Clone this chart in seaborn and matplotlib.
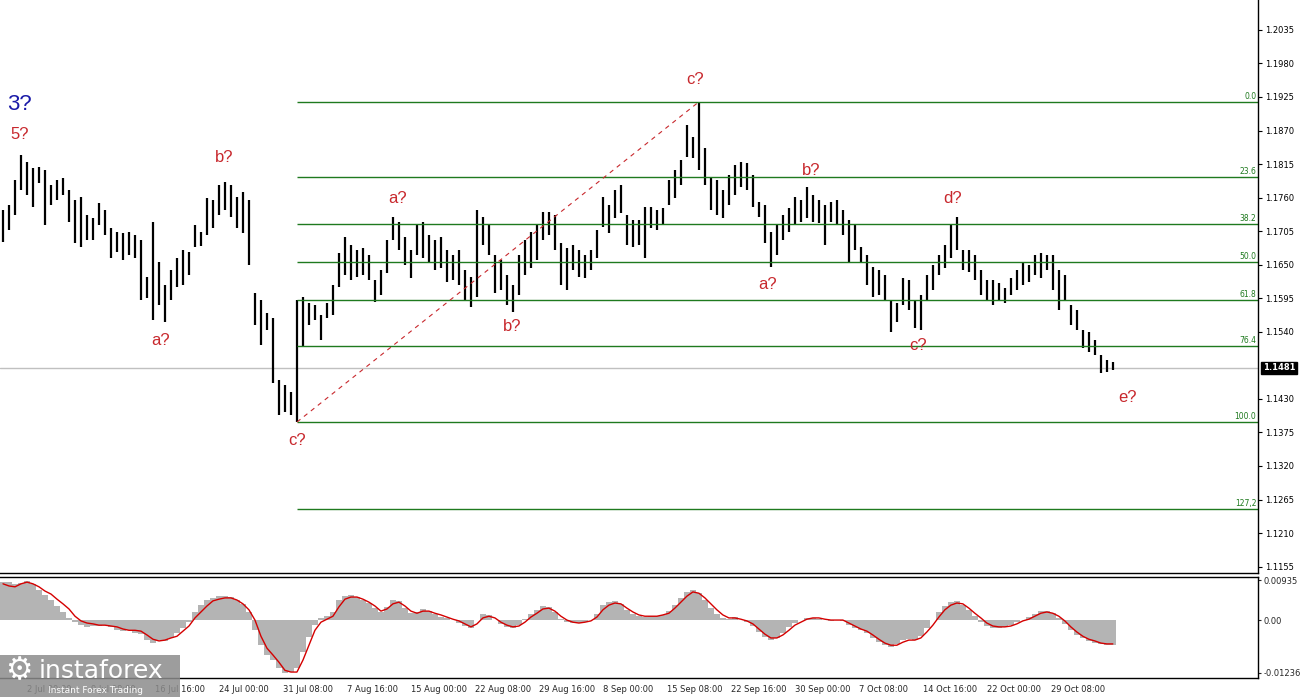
import numpy as np
import seaborn as sns
import matplotlib.pyplot as plt
import matplotlib.transforms as mtransforms
from matplotlib.patches import Rectangle

# EUR/USD H4, one entry per 12 hours (high / low)
highs = [1.1740, 1.1748, 1.1789, 1.1830, 1.1818, 1.1808, 1.1810, 1.1805, 1.1781, 1.1789,
         1.1792, 1.1772, 1.1756, 1.1761, 1.1731, 1.1726, 1.1751, 1.1740, 1.1710, 1.1703,
         1.1702, 1.1703, 1.1699, 1.1690, 1.1630, 1.1720, 1.1654, 1.1617, 1.1641, 1.1661,
         1.1674, 1.1671, 1.1715, 1.1703, 1.1759, 1.1756, 1.1781, 1.1786, 1.1781, 1.1761,
         1.1769, 1.1756, 1.1604, 1.1592, 1.1571, 1.1563, 1.1461, 1.1453, 1.1441, 1.1592,
         1.1597, 1.1587, 1.1584, 1.1567, 1.1587, 1.1617, 1.1669, 1.1695, 1.1682, 1.1674,
         1.1677, 1.1666, 1.1625, 1.1641, 1.1690, 1.1728, 1.1720, 1.1695, 1.1674, 1.1715,
         1.1720, 1.1699, 1.1690, 1.1695, 1.1674, 1.1666, 1.1674, 1.1641, 1.1630, 1.1740,
         1.1728, 1.1715, 1.1666, 1.1658, 1.1633, 1.1617, 1.1666, 1.1690, 1.1703, 1.1715,
         1.1736, 1.1736, 1.1731, 1.1686, 1.1677, 1.1682, 1.1674, 1.1666, 1.1674, 1.1707,
         1.1761, 1.1748, 1.1772, 1.1781, 1.1731, 1.1723, 1.1723, 1.1745, 1.1745, 1.1740,
         1.1743, 1.1789, 1.1805, 1.1822, 1.1879, 1.1859, 1.1917, 1.1841, 1.1794, 1.1789,
         1.1772, 1.1797, 1.1813, 1.1818, 1.1817, 1.1797, 1.1753, 1.1748, 1.1703, 1.1715,
         1.1731, 1.1743, 1.1761, 1.1756, 1.1777, 1.1764, 1.1756, 1.1748, 1.1753, 1.1756,
         1.1740, 1.1723, 1.1715, 1.1679, 1.1666, 1.1646, 1.1641, 1.1633, 1.1592, 1.1587,
         1.1628, 1.1625, 1.1592, 1.1600, 1.1633, 1.1649, 1.1666, 1.1682, 1.1715, 1.1728,
         1.1674, 1.1674, 1.1666, 1.1641, 1.1625, 1.1625, 1.1620, 1.1612, 1.1628, 1.1641,
         1.1654, 1.1649, 1.1666, 1.1669, 1.1666, 1.1666, 1.1641, 1.1633, 1.1584, 1.1576,
         1.1543, 1.1540, 1.1526, 1.1502, 1.1494, 1.1490]
lows = [1.1687, 1.1707, 1.1731, 1.1772, 1.1764, 1.1745, 1.1784, 1.1715, 1.1748, 1.1756,
        1.1764, 1.1720, 1.1686, 1.1679, 1.1690, 1.1690, 1.1715, 1.1699, 1.1661, 1.1671,
        1.1658, 1.1666, 1.1661, 1.1592, 1.1595, 1.1559, 1.1584, 1.1556, 1.1592, 1.1613,
        1.1617, 1.1633, 1.1679, 1.1681, 1.1699, 1.1710, 1.1731, 1.1740, 1.1728, 1.1710,
        1.1702, 1.1649, 1.1551, 1.1518, 1.1543, 1.1456, 1.1403, 1.1408, 1.1403, 1.1392,
        1.1515, 1.1551, 1.1559, 1.1526, 1.1563, 1.1567, 1.1613, 1.1633, 1.1625, 1.1630,
        1.1633, 1.1625, 1.1589, 1.1600, 1.1636, 1.1690, 1.1674, 1.1649, 1.1628, 1.1666,
        1.1661, 1.1654, 1.1641, 1.1645, 1.1622, 1.1625, 1.1617, 1.1592, 1.1581, 1.1597,
        1.1682, 1.1666, 1.1604, 1.1608, 1.1584, 1.1572, 1.1600, 1.1633, 1.1645, 1.1658,
        1.1690, 1.1699, 1.1674, 1.1617, 1.1608, 1.1641, 1.1630, 1.1628, 1.1641, 1.1661,
        1.1712, 1.1702, 1.1726, 1.1735, 1.1682, 1.1679, 1.1682, 1.1661, 1.1710, 1.1707,
        1.1715, 1.1748, 1.1759, 1.1781, 1.1827, 1.1825, 1.1805, 1.1781, 1.1740, 1.1731,
        1.1726, 1.1748, 1.1764, 1.1777, 1.1772, 1.1745, 1.1728, 1.1686, 1.1646, 1.1666,
        1.1690, 1.1703, 1.1715, 1.1720, 1.1726, 1.1720, 1.1718, 1.1682, 1.1720, 1.1715,
        1.1699, 1.1653, 1.1674, 1.1653, 1.1617, 1.1597, 1.1600, 1.1592, 1.1540, 1.1556,
        1.1584, 1.1576, 1.1546, 1.1543, 1.1592, 1.1608, 1.1633, 1.1645, 1.1661, 1.1674,
        1.1641, 1.1638, 1.1625, 1.1600, 1.1592, 1.1584, 1.1592, 1.1587, 1.1600, 1.1608,
        1.1617, 1.1622, 1.1633, 1.1628, 1.1641, 1.1608, 1.1576, 1.1592, 1.1551, 1.1543,
        1.1513, 1.1507, 1.1502, 1.1472, 1.1474, 1.1477]
last_price = 1.1481

# MACD histogram and signal line
macd_hist = [0.0089, 0.0089, 0.0085, 0.0087, 0.0092, 0.0085, 0.0071, 0.0059, 0.0047, 0.0033,
             0.0019, 0.0005, -0.0005, -0.0012, -0.0016, -0.0014, -0.0014, -0.0012, -0.0016, -0.0024,
             -0.0026, -0.0024, -0.0031, -0.0033, -0.0047, -0.0054, -0.0047, -0.0049, -0.0042, -0.0031,
             -0.0019, -0.0005, 0.0019, 0.0035, 0.0047, 0.0052, 0.0056, 0.0056, 0.0054, 0.0047,
             0.0038, 0.0019, -0.0024, -0.0059, -0.0082, -0.0094, -0.0113, -0.0125, -0.0122, -0.0113,
             -0.0075, -0.0040, -0.0012, 0.0005, 0.0009, 0.0019, 0.0047, 0.0056, 0.0059, 0.0054,
             0.0047, 0.0040, 0.0028, 0.0019, 0.0031, 0.0047, 0.0045, 0.0028, 0.0016, 0.0019,
             0.0026, 0.0021, 0.0014, 0.0007, 0.0005, 0.0, -0.0007, -0.0014, -0.0019, 0.0,
             0.0014, 0.0012, 0.0, -0.0009, -0.0016, -0.0019, -0.0012, 0.0002, 0.0014, 0.0024,
             0.0033, 0.0031, 0.0019, 0.0002, -0.0005, -0.0007, -0.0007, -0.0005, 0.0, 0.0014,
             0.0035, 0.0042, 0.0045, 0.0038, 0.0024, 0.0014, 0.0009, 0.0007, 0.0009, 0.0009,
             0.0012, 0.0021, 0.0035, 0.0052, 0.0066, 0.0071, 0.0063, 0.0047, 0.0028, 0.0014,
             0.0005, 0.0002, 0.0007, 0.0, -0.0005, -0.0014, -0.0028, -0.0040, -0.0047, -0.0042,
             -0.0031, -0.0016, -0.0007, 0.0, 0.0005, 0.0005, 0.0002, 0.0, -0.0002, 0.0,
             -0.0002, -0.0012, -0.0019, -0.0024, -0.0031, -0.0042, -0.0052, -0.0059, -0.0063, -0.0056,
             -0.0047, -0.0045, -0.0047, -0.0038, -0.0019, 0.0, 0.0019, 0.0033, 0.0042, 0.0045,
             0.0035, 0.0024, 0.0009, -0.0005, -0.0014, -0.0019, -0.0019, -0.0016, -0.0012, -0.0005,
             0.0, 0.0007, 0.0014, 0.0021, 0.0021, 0.0016, 0.0005, -0.0009, -0.0024, -0.0035,
             -0.0042, -0.0049, -0.0054, -0.0056, -0.0059, -0.0059]
macd_signal = [0.0085, 0.0080, 0.0078, 0.0085, 0.0089, 0.0085, 0.0078, 0.0068, 0.0061, 0.0049,
               0.0038, 0.0026, 0.0009, -0.0002, -0.0007, -0.0009, -0.0012, -0.0012, -0.0014, -0.0016,
               -0.0021, -0.0024, -0.0024, -0.0026, -0.0035, -0.0045, -0.0049, -0.0047, -0.0042, -0.0038,
               -0.0026, -0.0014, 0.0005, 0.0019, 0.0033, 0.0045, 0.0049, 0.0052, 0.0052, 0.0047,
               0.0038, 0.0024, 0.0, -0.0038, -0.0066, -0.0082, -0.0099, -0.0118, -0.0122, -0.0122,
               -0.0094, -0.0059, -0.0024, -0.0005, 0.0002, 0.0009, 0.0031, 0.0049, 0.0054, 0.0054,
               0.0049, 0.0042, 0.0033, 0.0021, 0.0026, 0.0038, 0.0042, 0.0033, 0.0021, 0.0016,
               0.0021, 0.0021, 0.0016, 0.0012, 0.0007, 0.0002, -0.0002, -0.0009, -0.0016, -0.0009,
               0.0005, 0.0009, 0.0005, -0.0005, -0.0012, -0.0016, -0.0014, -0.0005, 0.0007, 0.0016,
               0.0026, 0.0028, 0.0021, 0.0009, 0.0, -0.0005, -0.0007, -0.0005, -0.0002, 0.0007,
               0.0024, 0.0035, 0.0040, 0.0038, 0.0028, 0.0019, 0.0012, 0.0009, 0.0009, 0.0009,
               0.0012, 0.0016, 0.0028, 0.0042, 0.0056, 0.0066, 0.0063, 0.0052, 0.0038, 0.0024,
               0.0012, 0.0005, 0.0005, 0.0002, -0.0002, -0.0009, -0.0021, -0.0033, -0.0042, -0.0042,
               -0.0035, -0.0024, -0.0012, -0.0005, 0.0002, 0.0005, 0.0005, 0.0002, 0.0, 0.0,
               0.0, -0.0007, -0.0014, -0.0021, -0.0026, -0.0035, -0.0045, -0.0054, -0.0059, -0.0059,
               -0.0052, -0.0047, -0.0047, -0.0042, -0.0028, -0.0012, 0.0007, 0.0024, 0.0035, 0.0040,
               0.0038, 0.0028, 0.0016, 0.0005, -0.0007, -0.0014, -0.0016, -0.0016, -0.0014, -0.0009,
               -0.0002, 0.0002, 0.0009, 0.0016, 0.0019, 0.0016, 0.0009, -0.0002, -0.0016, -0.0028,
               -0.0038, -0.0045, -0.0049, -0.0054, -0.0056, -0.0056]

date_labels = ['24 Jun 16:00', '2 Jul 00:00', '9 Jul 08:00', '16 Jul 16:00', '24 Jul 00:00',
               '31 Jul 08:00', '7 Aug 16:00', '15 Aug 00:00', '22 Aug 08:00', '29 Aug 16:00',
               '8 Sep 00:00', '15 Sep 08:00', '22 Sep 16:00', '30 Sep 00:00', '7 Oct 08:00',
               '14 Oct 16:00', '22 Oct 00:00', '29 Oct 08:00']
price_ticks = [1.2035, 1.1980, 1.1925, 1.1870, 1.1815, 1.1760, 1.1705, 1.1650, 1.1595,
               1.1540, 1.1430, 1.1375, 1.1320, 1.1265, 1.1210, 1.1155]
fib_levels = [0.0, 23.6, 38.2, 50.0, 61.8, 76.4, 100.0, 127.2]
fib_texts = ['0.0', '23.6', '38.2', '50.0', '61.8', '76.4', '100.0', '127,2']

# wave labels: (text, bar index, price)
wave_labels = [('5?', 2.8, 1.1863), ('b?', 36.8, 1.1825), ('a?', 26.2, 1.1525),
               ('c?', 49.0, 1.1361), ('a?', 65.7, 1.1759), ('b?', 84.8, 1.1548),
               ('c?', 115.3, 1.1953), ('a?', 127.5, 1.1617), ('b?', 134.7, 1.1805),
               ('c?', 152.5, 1.1517), ('d?', 158.3, 1.1759), ('e?', 187.5, 1.1433)]

sns.set_theme(style='white')
plt.rcParams['font.family'] = ['DejaVu Sans']

fig = plt.figure(figsize=(13, 7), dpi=100)
ax = fig.add_axes([0, 0.181, 0.9677, 0.819])
axm = fig.add_axes([0, 0.0314, 0.9677, 0.1443])

x = np.arange(len(highs))
green = '#1f7a1f'
red = '#c8282d'
x_right = 209.2

# price bars
ax.vlines(x, lows, highs, color='black', lw=1.6)

# fibonacci grid from the low to the high
i_lo, i_hi = int(np.argmin(lows)), int(np.argmax(highs))
p_lo, p_hi = lows[i_lo], highs[i_hi]
for lvl, txt in zip(fib_levels, fib_texts):
    p = p_hi - (p_hi - p_lo) * lvl / 100
    ax.hlines(p, i_lo, x_right, color=green, lw=1.0)
    ax.text(x_right - 0.3, p + 0.0002, txt, color=green, fontsize=5.5, ha='right', va='bottom')
ax.plot([i_lo, i_hi], [p_lo, p_hi], color=red, lw=0.8, ls=(0, (4, 4)))

# current price line and marker
ax.axhline(last_price, color='#c0c0c0', lw=1.0, zorder=0)
trans = mtransforms.blended_transform_factory(ax.transAxes, ax.transData)
ax.text(1.004, last_price, '1.1481', transform=trans, color='white', fontsize=6,
        fontweight='bold', va='center', ha='left',
        bbox=dict(boxstyle='square,pad=0.2', fc='black', ec='black'))

for txt, xi, p in wave_labels:
    ax.text(xi, p, txt, color=red, fontsize=12, ha='center', va='center',
            family='Liberation Sans')
ax.text(2.8, 1.1913, '3?', color='#1a1aa8', fontsize=16, ha='center', va='center',
        family='Liberation Sans')

ax.yaxis.tick_right()
ax.set_yticks(price_ticks)
ax.set_yticklabels([f'{t:.4f}' for t in price_ticks])
ax.tick_params(axis='y', labelsize=6, length=3, width=0.8, direction='out', pad=2, colors='black')
ax.set_xticks([])
ax.set_xlim(-0.5, x_right)
ax.set_ylim(1.1144, 1.2084)
for side in ['top', 'left']:
    ax.spines[side].set_visible(False)
for side in ['right', 'bottom']:
    ax.spines[side].set_color('black')
    ax.spines[side].set_linewidth(1.0)

# MACD panel
axm.bar(x, macd_hist, width=1.0, color='#b4b4b4', linewidth=0)
sns.lineplot(x=x, y=macd_signal, ax=axm, color='#d40000', lw=1.0)
axm.yaxis.tick_right()
axm.set_yticks([0.00935, 0.0, -0.01236])
axm.set_yticklabels(['0.00935', '0.00', '-0.01236'])
axm.tick_params(axis='y', labelsize=6, length=2, width=0.8, direction='out', pad=2)
ticks = np.arange(len(date_labels)) * 32 / 3 - 6.667
axm.set_xticks(ticks)
axm.set_xticklabels(date_labels, ha='left')
axm.tick_params(axis='x', labelsize=6, length=3, width=0.8, direction='out', pad=2)
axm.set_xlim(-0.5, x_right)
axm.set_ylim(-0.0136, 0.0101)
axm.spines['left'].set_visible(False)
for side in ['right', 'bottom', 'top']:
    axm.spines[side].set_color('black')
    axm.spines[side].set_linewidth(1.0)
axm.set_xlabel('')
axm.set_ylabel('')

# watermark logo
fig.patches.append(Rectangle((0, 0.004), 0.1385, 0.06, transform=fig.transFigure,
                             fc='#8c8c8c', ec='none', alpha=0.85, zorder=5))
fig.text(0.004, 0.042, '\u2699', color='white', fontsize=22, va='center', zorder=6)
fig.text(0.030, 0.042, 'instaforex', color='white', fontsize=18, va='center', zorder=6)
fig.text(0.037, 0.014, 'Instant Forex Trading', color='white', fontsize=6.5, va='center', zorder=6)

fig.savefig('out.png', dpi=100)
